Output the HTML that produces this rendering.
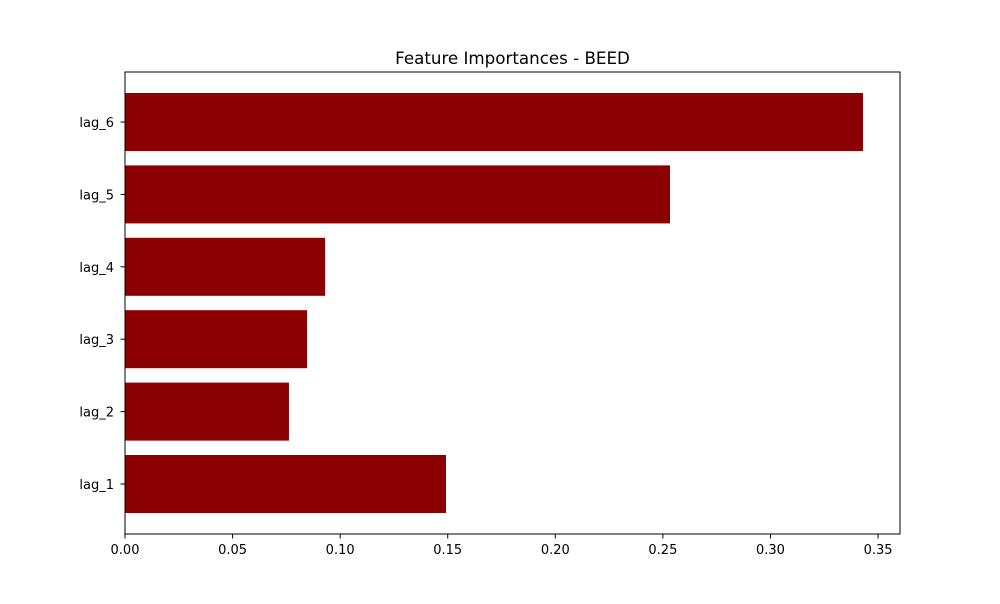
<!DOCTYPE html>
<html><head><meta charset="utf-8"><style>
body{margin:0;background:#fff;font-family:"DejaVu Sans","Liberation Sans",sans-serif;}
</style></head><body>
<svg width="1000" height="600" xmlns="http://www.w3.org/2000/svg" font-family="DejaVu Sans, Liberation Sans, sans-serif">
<rect width="1000" height="600" fill="#fff"/>
<text x="512.5" y="64" font-size="16.7" text-anchor="middle">Feature Importances - BEED</text>
<g id="bars"></g>
<g id="xticks"></g>
<g id="yticks"></g>
<rect x="125" y="72" width="775" height="462" fill="none" stroke="#000" stroke-width="1"/>
</svg>
<script>
const categories = ["lag_1","lag_2","lag_3","lag_4","lag_5","lag_6"];
const importances = [0.1492,0.0762,0.0846,0.093,0.2533,0.343];
const xTickValues = [0,0.05,0.1,0.15,0.2,0.25,0.3,0.35];
const xTickLabels = ["0.00","0.05","0.10","0.15","0.20","0.25","0.30","0.35"];
const NS="http://www.w3.org/2000/svg";
const x0=125, x1=900, xmax=0.3602;
function xs(v){return x0+v/xmax*(x1-x0);}
function ys(i){return 484-72.4*i;}
const bh=58;
const bars=document.getElementById('bars');
importances.forEach((v,i)=>{
  const r=document.createElementNS(NS,'rect');
  r.setAttribute('x',xs(0));r.setAttribute('y',ys(i)-bh/2);
  r.setAttribute('width',xs(v)-xs(0));r.setAttribute('height',bh);
  r.setAttribute('fill','#8b0000');
  
  
  bars.appendChild(r);
});
const xt=document.getElementById('xticks');
xTickValues.forEach((v,i)=>{
  const x=xs(v);
  const l=document.createElementNS(NS,'line');
  l.setAttribute('x1',x);l.setAttribute('x2',x);l.setAttribute('y1',534);l.setAttribute('y2',538.5);l.setAttribute('stroke','#000');
  
  
  xt.appendChild(l);
  const t=document.createElementNS(NS,'text');
  t.setAttribute('x',x);t.setAttribute('y',554);t.setAttribute('font-size','13');t.setAttribute('text-anchor','middle');
  t.textContent=xTickLabels[i];
  
  
  xt.appendChild(t);
});
const yt=document.getElementById('yticks');
categories.forEach((c,i)=>{
  const y=ys(i);
  const l=document.createElementNS(NS,'line');
  l.setAttribute('x1',120.5);l.setAttribute('x2',125);l.setAttribute('y1',y);l.setAttribute('y2',y);l.setAttribute('stroke','#000');
  
  
  yt.appendChild(l);
  const t=document.createElementNS(NS,'text');
  t.setAttribute('x',114);t.setAttribute('y',y+5);t.setAttribute('font-size','13');t.setAttribute('text-anchor','end');
  t.textContent=c;
  
  
  yt.appendChild(t);
});
</script>
</body></html>
